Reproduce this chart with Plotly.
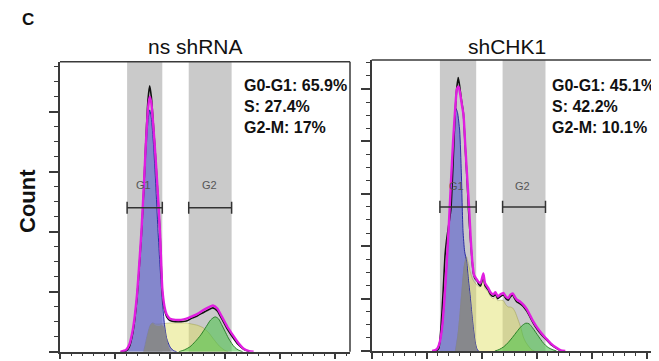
import plotly.graph_objects as go

# ---------------- data ----------------
panel_titles = ["ns shRNA", "shCHK1"]
phase_texts = [["G0-G1: 65.9%", "S: 27.4%", "G2-M: 17%"],
               ["G0-G1: 45.1%", "S: 42.2%", "G2-M: 10.1%"]]
gate_names = ["G1", "G2"]
# gate ranges (channel units) per panel
left_gates = [[61, 93], [117, 156]]
right_gates = [[62, 95], [119, 158]]
left_gate_level = 240
right_gate_level = 275

# ---- left panel (ns shRNA) ----
L_data_x = [55, 60, 63, 66, 68, 70, 72, 74, 76, 78, 80, 81.5, 83, 85, 87, 89, 91, 93, 95, 97, 100,
            105, 110, 115, 120, 125, 130, 135, 139, 143, 147, 152, 157, 162, 167, 172]
L_data_y = [0, 1, 8, 30, 55, 90, 140, 195, 265, 350, 420, 443, 425, 375, 320, 260, 195, 100, 70, 58, 52,
            50, 50, 51, 56, 60, 65, 70, 73, 68, 55, 38, 24, 12, 4, 0]
L_fit_x = [55, 60, 63, 66, 68, 70, 72, 74, 76, 78, 80, 81.5, 83, 85, 87, 89, 91, 93, 95, 97, 100,
           105, 110, 115, 120, 125, 130, 135, 139, 143, 147, 152, 157, 162, 167, 172, 176]
L_fit_y = [0, 3, 12, 35, 60, 95, 145, 200, 268, 345, 405, 425, 415, 372, 320, 262, 195, 105, 75, 62, 55,
           53, 53, 55, 59, 63, 69, 74, 77, 72, 59, 42, 28, 15, 5, 1, 0]
L_g1_x = [60, 63, 66, 68, 70, 72, 74, 76, 78, 80, 81.5, 83, 85, 87, 89, 91, 93, 95, 97, 100, 103, 106]
L_g1_y = [0, 8, 30, 55, 90, 140, 195, 260, 330, 385, 403, 390, 345, 280, 205, 140, 85, 45, 22, 8, 2, 0]
L_s_x = [76, 79, 82, 84, 87, 90, 95, 100, 105, 110, 115, 120, 125, 130, 135, 140, 145, 150, 153]
L_s_y = [0, 25, 44, 48, 46, 46, 47, 48, 48, 48, 48, 46, 44, 40, 32, 20, 9, 2, 0]
L_g2_x = [108, 113, 118, 123, 128, 133, 137, 141, 144, 147, 150, 153, 156, 159, 162, 166]
L_g2_y = [0, 3, 8, 17, 28, 42, 53, 58, 55, 45, 34, 23, 14, 7, 3, 0]
L_ov_x = [76, 78, 80, 82, 84, 87, 90, 93, 95, 97, 99, 101]
L_ov_y = [0, 15, 32, 44, 48, 44, 43, 44, 40, 22, 8, 0]

# ---- right panel (shCHK1) ----
R_data_x = [55, 59, 61, 63, 65, 66.6, 68, 70, 72, 74, 75.7, 77.5, 78.7, 80, 81.5, 83.3, 85, 86.9, 88,
            89.4, 91, 92.4, 94, 95.5, 97, 99, 101.5, 103, 106, 108, 110.5, 112.5, 114.6, 117, 119.7,
            122, 124.2, 126, 128.2, 130, 131.8, 135, 137.8, 141, 143.9, 147, 150, 154, 159, 163, 168, 172]
R_data_y = [0, 1, 5, 45, 115, 180, 210, 240, 270, 360, 447, 505, 522, 505, 480, 455, 390, 320, 270,
            225, 180, 149, 138, 135, 128, 124, 145, 125, 116, 108, 104, 108, 100, 104, 107,
            100, 97, 103, 107, 100, 94, 90, 85, 76, 65, 53, 43, 32, 21, 12, 5, 0]
R_fit_x = [55, 58, 60, 62, 64, 66, 68, 70, 72, 74, 76, 77.5, 79, 80.5, 82, 83.5, 85, 87, 88.5, 90,
           91.5, 93, 95, 97, 99, 101.5, 103, 106, 108, 110.5, 112.5, 114.6, 117, 119.7, 122, 124.2,
           126, 128.2, 130, 132, 135, 138, 141, 144, 147, 150, 154, 159, 163, 168, 172, 176]
R_fit_y = [0, 2, 6, 18, 45, 95, 160, 235, 320, 400, 465, 500, 505, 490, 470, 450, 395, 325, 275, 215,
           170, 145, 138, 132, 130, 148, 130, 120, 112, 108, 112, 104, 108, 111, 104, 101,
           107, 110, 104, 98, 94, 88, 80, 68, 56, 46, 35, 23, 14, 6, 1, 0]
R_g1_x = [58, 60, 62, 64, 66, 68, 70, 72, 74, 75.5, 76.6, 78, 80, 81.5, 83, 84.5, 86.4, 88, 89.4,
          91, 92.4, 94, 95.5, 97]
R_g1_y = [0, 4, 16, 42, 90, 155, 230, 310, 385, 440, 463, 455, 420, 340, 230, 190, 170, 135, 108,
          72, 44, 18, 5, 0]
R_s_x = [76, 79, 82, 84, 86, 88, 90, 92, 94, 96, 98, 100, 101.5, 103, 106, 108, 110.5, 112.5, 114.6,
         117, 119.7, 122, 124.2, 126, 128.2, 130.3, 133, 135.5, 137.8, 140, 143, 145.5, 148]
R_s_y = [0, 40, 110, 160, 180, 165, 148, 136, 130, 125, 122, 130, 140, 120, 112, 104, 100, 103, 96,
         97, 96, 88, 84, 84, 82, 75, 60, 45, 27, 17, 8, 2, 0]
R_g2_x = [112, 116, 120, 124, 128, 132, 136, 140, 143, 146, 149, 152, 155, 158, 161, 164, 168]
R_g2_y = [0, 3, 8, 16, 26, 37, 47, 53, 52, 45, 36, 27, 18, 11, 6, 3, 0]
R_ov_x = [76, 78, 80, 82, 84, 85.7, 87, 88.5, 90, 91.5, 93, 94.5, 96]
R_ov_y = [0, 30, 75, 125, 165, 178, 150, 120, 92, 62, 35, 14, 0]

# ---------------- styling ----------------
FONT = "Liberation Sans, Arial, Helvetica, sans-serif"
BAND = "#CACACA"
AX = "#3a3a3a"

fig = go.Figure()

panels = [
    dict(xa="x", ya="y", data=(L_data_x, L_data_y), fit=(L_fit_x, L_fit_y), g1=(L_g1_x, L_g1_y),
         s=(L_s_x, L_s_y), g2=(L_g2_x, L_g2_y), ov=(L_ov_x, L_ov_y)),
    dict(xa="x2", ya="y2", data=(R_data_x, R_data_y), fit=(R_fit_x, R_fit_y), g1=(R_g1_x, R_g1_y),
         s=(R_s_x, R_s_y), g2=(R_g2_x, R_g2_y), ov=(R_ov_x, R_ov_y)),
]

def fill_trace(xy, fillcolor, linecolor, width, p, smooth=0.8):
    return go.Scatter(x=xy[0], y=xy[1], mode="lines", fill="tozeroy", fillcolor=fillcolor,
                      line=dict(color=linecolor, width=width, shape="spline", smoothing=smooth),
                      xaxis=p["xa"], yaxis=p["ya"], showlegend=False, hoverinfo="skip")

for p in panels:
    fig.add_trace(fill_trace(p["s"], "rgba(222,222,90,0.45)", "rgba(150,150,60,0.55)", 0.8, p, 0.6))
    fig.add_trace(fill_trace(p["g2"], "rgba(70,195,70,0.55)", "rgba(30,120,30,0.9)", 1, p))
    fig.add_trace(fill_trace(p["g1"], "rgba(85,90,205,0.6)", "rgba(30,30,160,0.9)", 1, p, 0.6))
    fig.add_trace(fill_trace(p["ov"], "rgba(135,135,135,0.9)", "rgba(0,0,0,0)", 0, p, 0.6))
    fig.add_trace(go.Scatter(x=p["data"][0], y=p["data"][1], mode="lines",
                             line=dict(color="#111111", width=1.6, shape="spline", smoothing=0.5),
                             xaxis=p["xa"], yaxis=p["ya"], showlegend=False, hoverinfo="skip"))
    fig.add_trace(go.Scatter(x=p["fit"][0], y=p["fit"][1], mode="lines",
                             line=dict(color="#E01EE0", width=2.4, shape="spline", smoothing=0.5),
                             xaxis=p["xa"], yaxis=p["ya"], showlegend=False, hoverinfo="skip"))

shapes = []
annotations = []

def add_panel_decor(xref, yref, gates, level, cap, label_dy):
    for (g0, g1), name in zip(gates, gate_names):
        shapes.append(dict(type="rect", xref=xref, yref=yref + " domain", x0=g0, x1=g1, y0=0, y1=1,
                           fillcolor=BAND, line=dict(width=0), layer="below"))
        shapes.append(dict(type="line", xref=xref, yref=yref, x0=g0, x1=g1, y0=level, y1=level,
                           line=dict(color="#333333", width=1.5)))
        for gx in (g0, g1):
            shapes.append(dict(type="line", xref=xref, yref=yref, x0=gx, x1=gx, y0=level - cap,
                               y1=level + cap, line=dict(color="#333333", width=1.5)))
        annotations.append(dict(x=(g0 + g1) / 2 - 1, y=level + label_dy, xref=xref, yref=yref,
                                text=name, showarrow=False, xanchor="center", yanchor="middle",
                                font=dict(family=FONT, size=11, color="#555555")))
    # top frame line
    shapes.append(dict(type="line", xref=xref + " domain", yref=yref + " domain", x0=0, x1=1,
                       y0=1, y1=1, line=dict(color=AX, width=1.5)))

add_panel_decor("x", "y", left_gates, left_gate_level, 10, 37)
add_panel_decor("x2", "y2", right_gates, right_gate_level, 11.5, 40)
# right frame of left panel
shapes.append(dict(type="line", xref="x domain", yref="y domain", x0=1, x1=1, y0=0, y1=1,
                   line=dict(color=AX, width=1.5)))

# page body has an 8px margin: the figure is offset by 8px inside the 659x361 window
OFF = 8
W, H = 659 - OFF, 361 - OFF
ML, MR, MT, MB = 60 - OFF, 0, 60 - OFF, 9
PW, PH = W - ML - MR, H - MT - MB

def px(xp):  # window pixel -> paper x
    return (xp - OFF - ML) / PW

def py(yp):  # window pixel -> paper y
    return (H - MB - (yp - OFF)) / PH

# titles
for xp, yp, t in [(195, 47, panel_titles[0]), (507, 46, panel_titles[1])]:
    annotations.append(dict(x=px(xp), y=py(yp), xref="paper", yref="paper", text=t,
                            xanchor="center", yanchor="middle", showarrow=False,
                            font=dict(family=FONT, size=21, color="#111111")))

# phase percentages
for (xp, yp), lines in zip([(242, 75), (550, 75)], phase_texts):
    annotations.append(dict(x=px(xp), y=py(yp), xref="paper", yref="paper", xanchor="left",
                            yanchor="top", align="left", showarrow=False,
                            text="<b>" + "<br>".join(lines) + "</b>",
                            font=dict(family=FONT, size=16, color="#111111")))

# panel letter and y label
annotations.append(dict(x=px(28), y=py(19), xref="paper", yref="paper", text="<b>C</b>",
                        xanchor="center", yanchor="middle",
                        showarrow=False, font=dict(family=FONT, size=17, color="#111111")))
annotations.append(dict(x=px(27), y=py(201), xref="paper", yref="paper", text="<b>Count</b>",
                        xanchor="center", yanchor="middle",
                        textangle=-90, showarrow=False,
                        font=dict(family=FONT, size=22, color="#111111")))

def xaxis_cfg(domain, rng):
    return dict(domain=domain, range=rng, showgrid=False, zeroline=False, showline=True,
                linecolor=AX, linewidth=1.5, ticks="outside", ticklen=6, tickwidth=1.6,
                tickcolor=AX, dtick=50, tick0=0, showticklabels=False,
                minor=dict(ticks="outside", ticklen=3, tickwidth=1.2, tickcolor=AX, dtick=10),
                fixedrange=True)

def yaxis_cfg(domain, rng, anchor):
    return dict(domain=domain, range=rng, showgrid=False, zeroline=False, showline=True,
                linecolor=AX, linewidth=1.5, ticks="outside", ticklen=9, tickwidth=2,
                tickcolor=AX, dtick=100, tick0=0, showticklabels=False, anchor=anchor,
                minor=dict(ticks="outside", ticklen=4, tickwidth=1.2, tickcolor=AX, dtick=25),
                fixedrange=True)

fig.update_layout(
    width=W, height=H, margin=dict(l=ML, r=MR, t=MT, b=MB),
    paper_bgcolor="white", plot_bgcolor="rgba(0,0,0,0)",
    xaxis=dict(xaxis_cfg([0, px(350)], [0, 263.6]), anchor="y"),
    xaxis2=dict(xaxis_cfg([px(371.7), 1], [0, 261.2]), anchor="y2"),
    yaxis=yaxis_cfg([py(351.7), py(61.7)], [0, 483.3], "x"),
    yaxis2=yaxis_cfg([py(351), 1], [0, 555.3], "x2"),
    shapes=shapes, annotations=annotations, showlegend=False,
)

fig.write_html("out.html")
